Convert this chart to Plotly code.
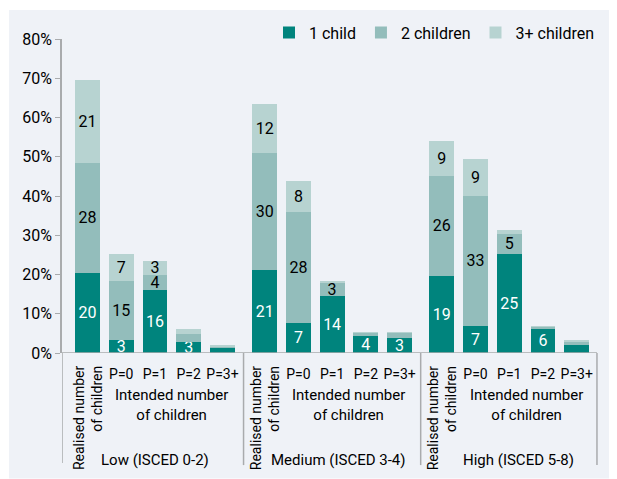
import plotly.graph_objects as go

# share of respondents (%) by number of children, per education group
groups = ["Low (ISCED 0-2)", "Medium (ISCED 3-4)", "High (ISCED 5-8)"]
bar_names = ["Realised", "P=0", "P=1", "P=2", "P=3+"]
series = ["1 child", "2 children", "3+ children"]

one_child = [20.4, 3.2, 16.1, 2.9, 1.4,
             21.2, 7.7, 14.6, 4.4, 3.7,
             19.7, 7.0, 25.3, 6.2, 2.0]
two_children = [28.0, 15.2, 3.8, 2.0, 0.3,
                29.8, 28.1, 3.2, 0.7, 1.4,
                25.4, 33.1, 5.1, 0.5, 0.7]
three_plus = [21.2, 6.7, 3.6, 1.3, 0.2,
              12.5, 8.1, 0.6, 0.2, 0.1,
              9.0, 9.4, 1.0, 0.1, 0.7]

one_child_labels = ["20", "3", "16", "3", "",
                    "21", "7", "14", "4", "3",
                    "19", "7", "25", "6", ""]
two_children_labels = ["28", "15", "4", "", "",
                       "30", "28", "3", "", "",
                       "26", "33", "5", "", ""]
three_plus_labels = ["21", "7", "3", "", "",
                     "12", "8", "", "", "",
                     "9", "9", "", "", ""]

y_ticks = [0, 10, 20, 30, 40, 50, 60, 70, 80]

colors = ["#00847d", "#93bdbb", "#b7d3d1"]
label_colors = ["white", "black", "black"]
FONT = "Roboto, sans-serif"

# x positions: 5 bars per group, a little extra space between groups
GROUP_STEP = 5.25
x = [g * GROUP_STEP + i for g in range(len(groups)) for i in range(len(bar_names))]

fig = go.Figure()
for name, vals, labels, col, tcol in zip(
        series, [one_child, two_children, three_plus],
        [one_child_labels, two_children_labels, three_plus_labels],
        colors, label_colors):
    fig.add_trace(go.Bar(
        x=x, y=vals, name=name, width=0.74,
        marker=dict(color=col, line=dict(width=0)),
        text=labels, textposition="inside", insidetextanchor="middle", textangle=0,
        textfont=dict(color=tcol, size=16, family=FONT),
        hoverinfo="skip",
    ))

tick_x = [xx for xx, b in zip(x, bar_names * len(groups)) if b != "Realised"]
tick_text = [b for b in bar_names * len(groups) if b != "Realised"]

x_left, x_right = -0.756, 15.19
grey = "#a9abad"
shapes = [
    # panel background
    dict(type="rect", xref="paper", yref="paper", x0=-0.0985, x1=1.04,
         y0=-0.4, y1=1.0924, fillcolor="#eff2f7", line=dict(width=0), layer="below"),
    # x axis line
    dict(type="line", xref="x", yref="y", x0=x_left, x1=15.1, y0=0, y1=0,
         line=dict(color=grey, width=1.5)),
    # left axis extension
    dict(type="line", xref="x", yref="paper", x0=x_left, x1=x_left, y0=-0.35, y1=0,
         line=dict(color=grey, width=1.5)),
]
for sep in [4.625, 9.875, 15.1]:
    shapes.append(dict(type="line", xref="x", yref="paper", x0=sep, x1=sep,
                       y0=-0.357, y1=0, line=dict(color=grey, width=1.5)))

annotations = []
label_shift = [0, 0.2, 0.28]
for g, grp in enumerate(groups):
    base = g * GROUP_STEP
    annotations.append(dict(
        x=base, y=-0.032, xref="x", yref="paper", text="Realised number<br>of children",
        textangle=-90, showarrow=False, xanchor="center", yanchor="top", align="right",
        font=dict(size=14, family=FONT, color="black")))
    annotations.append(dict(
        x=base + 2.5, y=-0.166, xref="x", yref="paper", text="Intended number<br>of children",
        showarrow=False, xanchor="center", yanchor="middle",
        font=dict(size=15, family=FONT, color="black")))
    annotations.append(dict(
        x=base + 2 + label_shift[g], y=-0.341, xref="x", yref="paper", text=grp,
        showarrow=False, xanchor="center", yanchor="middle",
        font=dict(size=15, family=FONT, color="black")))

# the page adds an 8px body margin, so the figure is 8px smaller than the window
fig.update_layout(
    barmode="stack",
    width=609, height=471,
    margin=dict(l=54, r=17, t=31, b=126, autoexpand=False),
    paper_bgcolor="white", plot_bgcolor="rgba(0,0,0,0)",
    font=dict(family=FONT, size=16, color="black"),
    uniformtext=dict(minsize=16, mode="show"),
    showlegend=True,
    legend=dict(orientation="h", x=1.0, xanchor="right", y=1.02, yanchor="middle",
                bgcolor="rgba(0,0,0,0)", font=dict(size=16), itemwidth=30,
                traceorder="normal"),
    xaxis=dict(range=[x_left, x_right], tickvals=tick_x, ticktext=tick_text, tickangle=0,
               ticks="outside", ticklen=8, tickcolor="rgba(0,0,0,0)",
               showgrid=False, zeroline=False, showline=False,
               tickfont=dict(size=14, family=FONT)),
    yaxis=dict(range=[0, 80], tickvals=y_ticks, ticktext=[f"{v}%" for v in y_ticks],
               showgrid=False, zeroline=False, showline=True, linecolor=grey, linewidth=1.5,
               ticks="outside", ticklen=5, tickcolor=grey,
               tickfont=dict(size=16, family=FONT)),
    shapes=shapes,
    annotations=annotations,
)

fig.write_html("out.html")
